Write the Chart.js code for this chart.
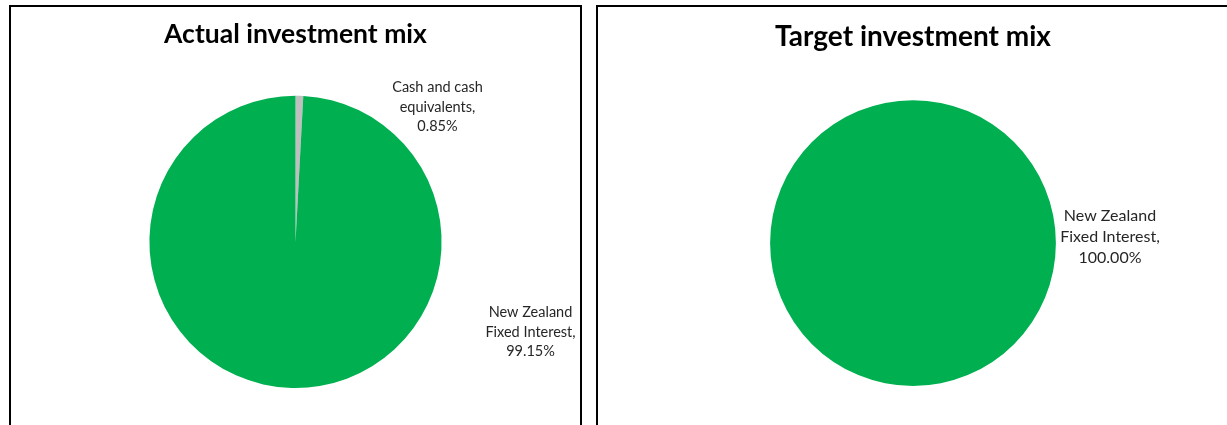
<!DOCTYPE html>
<html>
<head>
<meta charset="utf-8">
<script src="https://cdn.jsdelivr.net/npm/chart.js@4.4.1/dist/chart.umd.min.js"></script>
<style>
  html, body { margin: 0; padding: 0; background: #fff; overflow: hidden; }
  body { width: 1227px; height: 425px; position: relative; }
  .panel { position: absolute; border: 2px solid #000; background: #fff; box-sizing: border-box; }
  #p1 { left: 9px; top: 5px; width: 573px; height: 440px; }
  #p2 { left: 596px; top: 5px; width: 650px; height: 440px; }
  .panel canvas { position: absolute; left: 0; top: 0; }
</style>
</head>
<body>
<div class="panel" id="p1"><canvas id="c1"></canvas></div>
<div class="panel" id="p2"><canvas id="c2"></canvas></div>
<script>
// ---- data ----
const categories = ["Cash and cash equivalents", "New Zealand Fixed Interest"];
const actualValues = [0.85, 99.15];
const targetValues = [0, 100];
const titles = ["Actual investment mix", "Target investment mix"];
const colors = ["#BFBFBF", "#00B050"];

const FONT = "Lato, 'Open Sans', 'Liberation Sans', sans-serif";

const outsideLabels = {
  id: 'outsideLabels',
  afterDatasetsDraw(chart, args, opts) {
    const ctx = chart.ctx;
    const meta = chart.getDatasetMeta(0);
    const ds = chart.data.datasets[0];
    ctx.save();
    ctx.fillStyle = opts.color;
    ctx.font = opts.size + "px " + FONT;
    ctx.textAlign = 'center';
    ctx.textBaseline = 'middle';
    meta.data.forEach((arc, i) => {
      const v = ds.data[i];
      if (!v) return;
      const off = opts.offsets[i];
      const cx = arc.x + off[0], cy = arc.y + off[1];
      const words = (chart.data.labels[i] + ",").split(" ");
      const lines = [];
      let cur = "";
      words.forEach(w => {
        const t = cur ? cur + " " + w : w;
        if (ctx.measureText(t).width > opts.maxWidth && cur) { lines.push(cur); cur = w; }
        else cur = t;
      });
      if (cur) lines.push(cur);
      lines.push(v.toFixed(2) + "%");
      const lh = opts.lineHeight;
      const y0 = cy - (lines.length - 1) * lh / 2;
      lines.forEach((l, k) => ctx.fillText(l, cx, y0 + k * lh));
    });
    ctx.restore();
  }
};

function makePie(id, w, h, title, values, cfg) {
  const cv = document.getElementById(id);
  cv.style.width = w + "px"; cv.style.height = h + "px";
  cv.width = w; cv.height = h;
  return new Chart(cv, {
    type: 'pie',
    data: {
      labels: categories,
      datasets: [{ data: values, backgroundColor: colors, borderWidth: 0, hoverOffset: 0 }]
    },
    plugins: [outsideLabels],
    options: {
      responsive: false,
      animation: false,
      rotation: 0,
      layout: { padding: { top: 0, bottom: cfg.padBottom, left: cfg.padLeft || 0, right: cfg.padRight || 0 } },
      plugins: {
        legend: { display: false },
        tooltip: { enabled: false },
        title: {
          display: true, text: title, color: '#000',
          font: { family: FONT, size: cfg.titleSize, weight: 'bold' },
          padding: { top: cfg.titleTop, bottom: cfg.titleBottom }
        },
        outsideLabels: cfg.labels
      }
    }
  });
}

makePie('c1', 569, 436, titles[0], actualValues, {
  titleSize: 26.5, titleTop: 11.6, titleBottom: 45.4, padBottom: 55,
  labels: { offsets: [[142, -135], [235, 90]], size: 14.5, lineHeight: 19.5, maxWidth: 100, color: '#262626' }
});
makePie('c2', 646, 436, titles[1], targetValues, {
  titleSize: 28, titleTop: 13.2, titleBottom: 46.4, padBottom: 57, padRight: 16,
  labels: { offsets: [[197, -6], [197, -6]], size: 16, lineHeight: 21, maxWidth: 115, color: '#262626' }
});
</script>
</body>
</html>
